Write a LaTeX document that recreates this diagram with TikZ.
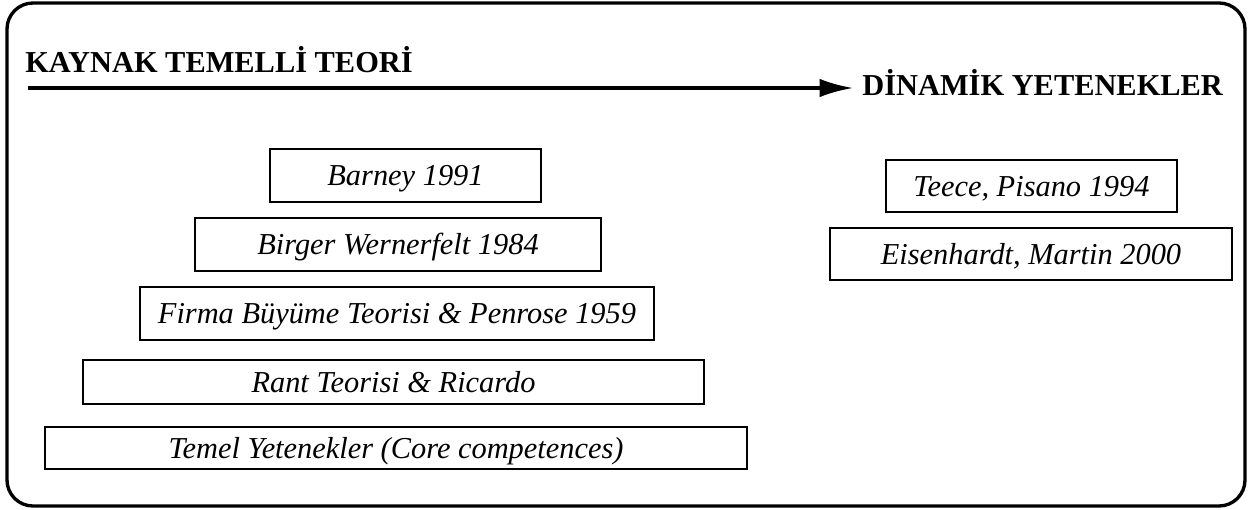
\documentclass[tikz,border=0pt]{standalone}
\usepackage{fontspec}
\setmainfont{Liberation Serif}
\usetikzlibrary{arrows.meta, positioning}

\begin{document}
\begin{tikzpicture}[
    x=0.02cm, y=-0.02cm,
    frame/.style={draw, line width=1.9pt, rounded corners=0.52cm},
    block/.style={rectangle, draw, line width=1.5pt, inner sep=0pt, minimum height=1.06cm, text height=11.4pt, text depth=0pt, font=\fontsize{17.3}{20}\selectfont\itshape},
    heading/.style={inner sep=0pt, font=\fontsize{17.3}{20}\selectfont\bfseries},
    arrow/.style={-{Latex[length=19pt, width=10.5pt]}, line width=1.8pt}
]
\useasboundingbox (0,0) rectangle (1257,510);

% outer frame
\draw[frame] (7,3) rectangle (1245,506);

% headings and time arrow
\node[heading, anchor=base west] (kaynak) at (25,72) {KAYNAK TEMELLİ TEORİ};
\node[heading, anchor=base west, inner xsep=0.18cm] (dinamik) at (853,95) {DİNAMİK YETENEKLER};
\coordinate (start) at (28,88);
\draw[arrow] (start) -- (start -| dinamik.west);

% resource based view
\node[block, minimum width=5.42cm] (barney) at (405.5,175.5) {Barney 1991};
\node[block, minimum width=8.12cm] (birger) at (398,244.5) {Birger Wernerfelt 1984};
\node[block, minimum width=10.28cm] (firma) at (397,313.5) {Firma Büyüme Teorisi \& Penrose 1959};
\node[block, minimum width=12.42cm, minimum height=0.88cm] (rant) at (393.5,382) {Rant Teorisi \& Ricardo};
\node[block, minimum width=14.04cm, minimum height=0.84cm] (temel) at (396,448) {Temel Yetenekler (Core competences)};

% dynamic capabilities
\node[block, minimum width=5.82cm, minimum height=1.04cm] (teece) at (1031.5,186) {Teece, Pisano 1994};
\node[block, minimum width=8.04cm, minimum height=1.04cm] (eisen) at (1031,254) {Eisenhardt, Martin 2000};
\end{tikzpicture}
\end{document}
